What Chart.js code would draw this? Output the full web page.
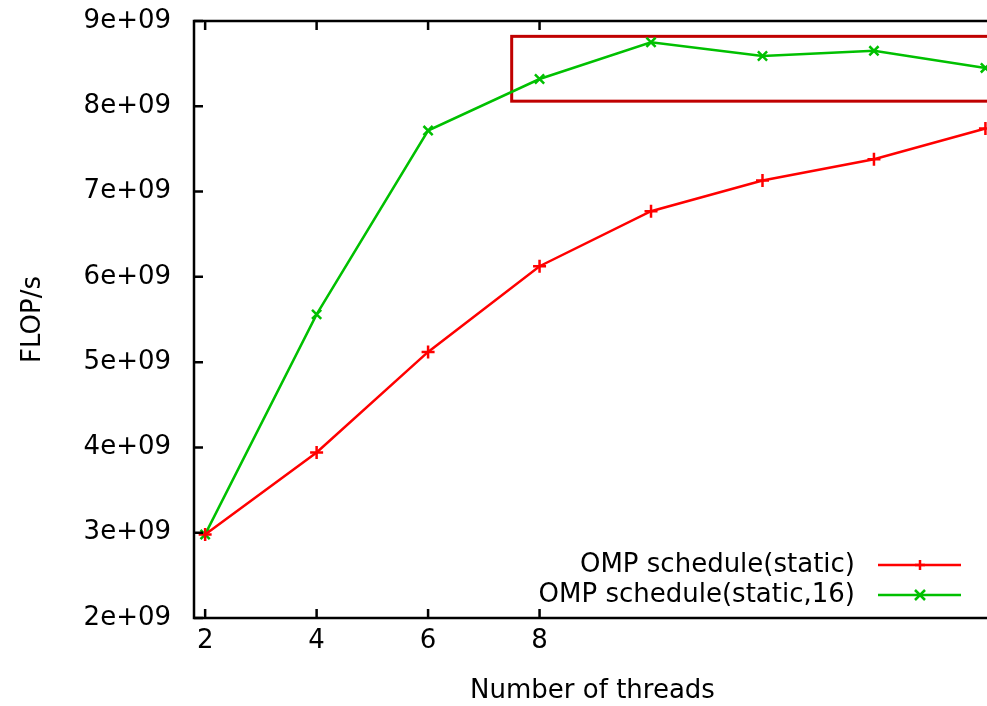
<!DOCTYPE html>
<html>
<head>
<meta charset="utf-8">
<script src="https://cdn.jsdelivr.net/npm/chart.js@4.4.1/dist/chart.umd.min.js"></script>
<style>
  html, body { margin: 0; padding: 0; background: #fff; overflow: hidden; }
  #wrap { width: 1000px; height: 706px; }
</style>
</head>
<body>
<div id="wrap"><canvas id="flops" width="1000" height="706"></canvas></div>
<script>
const threads = [2, 4, 6, 8, 10, 12, 14, 16];
const staticFlops = [2.98e9, 3.94e9, 5.12e9, 6.125e9, 6.77e9, 7.13e9, 7.38e9, 7.74e9];
const chunk16Flops = [2.98e9, 5.56e9, 7.715e9, 8.32e9, 8.75e9, 8.59e9, 8.65e9, 8.45e9];
const seriesLabels = ['OMP schedule(static)', 'OMP schedule(static,16)'];
const xTickValues = [2, 4, 6, 8];
const yTickValues = [2e9, 3e9, 4e9, 5e9, 6e9, 7e9, 8e9, 9e9];
// highlight rectangle, in data units
const boxX = [7.5, 16.5];
const boxY = [8.06e9, 8.82e9];

Chart.defaults.font.family = '"DejaVu Sans", sans-serif';
Chart.defaults.font.size = 26;
Chart.defaults.color = '#000';

function toPoints(xs, ys) {
    return xs.map((x, i) => ({ x: x, y: ys[i] }));
}

function drawMarker(ctx, style, x, y, r) {
    ctx.beginPath();
    if (style === 'cross') {
        ctx.moveTo(x - r, y); ctx.lineTo(x + r, y);
        ctx.moveTo(x, y - r); ctx.lineTo(x, y + r);
    } else {
        ctx.moveTo(x - r, y - r); ctx.lineTo(x + r, y + r);
        ctx.moveTo(x - r, y + r); ctx.lineTo(x + r, y - r);
    }
    ctx.stroke();
}

const gnuplotLook = {
    id: 'gnuplotLook',
    beforeDatasetsDraw(chart) {
        const { ctx, scales: { x, y } } = chart;
        ctx.save();
        ctx.strokeStyle = '#c00000';
        ctx.lineWidth = 3;
        const x0 = x.getPixelForValue(boxX[0]);
        const x1 = x.getPixelForValue(boxX[1]);
        const y0 = y.getPixelForValue(boxY[1]);
        const y1 = y.getPixelForValue(boxY[0]);
        ctx.strokeRect(x0, y0, x1 - x0, y1 - y0);
        ctx.restore();
    },
    afterDraw(chart) {
        const { ctx, chartArea: a, scales: { x, y } } = chart;
        ctx.save();
        ctx.strokeStyle = '#000';
        ctx.lineWidth = 2.5;
        ctx.strokeRect(a.left, a.top, a.right - a.left, a.bottom - a.top);

        // inward tick marks (bottom mirrored on top, left only)
        const tl = 9;
        ctx.beginPath();
        x.ticks.forEach(t => {
            const px = x.getPixelForValue(t.value);
            ctx.moveTo(px, a.bottom); ctx.lineTo(px, a.bottom - tl);
            ctx.moveTo(px, a.top); ctx.lineTo(px, a.top + tl);
        });
        y.ticks.forEach(t => {
            const py = y.getPixelForValue(t.value);
            ctx.moveTo(a.left, py); ctx.lineTo(a.left + tl, py);
        });
        ctx.stroke();

        // key in the lower right corner: text, then line sample
        ctx.font = '26px "DejaVu Sans", sans-serif';
        ctx.textAlign = 'right';
        ctx.textBaseline = 'middle';
        chart.data.datasets.forEach((ds, i) => {
            const rowY = a.bottom - 53 + i * 30;
            ctx.fillStyle = '#000';
            ctx.fillText(ds.label, a.right - 136, rowY);
            ctx.strokeStyle = ds.borderColor;
            ctx.lineWidth = 2.5;
            ctx.beginPath();
            ctx.moveTo(a.right - 113, rowY);
            ctx.lineTo(a.right - 30, rowY);
            ctx.stroke();
            drawMarker(ctx, ds.pointStyle, a.right - 71, rowY, 5);
        });
        ctx.restore();
    }
};

new Chart(document.getElementById('flops'), {
    type: 'line',
    data: {
        datasets: [{
            label: seriesLabels[0],
            data: toPoints(threads, staticFlops),
            borderColor: '#ff0000',
            backgroundColor: '#ff0000',
            borderWidth: 2.5,
            pointStyle: 'cross',
            pointRadius: 6.5,
            pointBorderWidth: 2.5,
            tension: 0
        }, {
            label: seriesLabels[1],
            data: toPoints(threads, chunk16Flops),
            borderColor: '#00c000',
            backgroundColor: '#00c000',
            borderWidth: 2.5,
            pointStyle: 'crossRot',
            pointRadius: 6.5,
            pointBorderWidth: 2.5,
            tension: 0
        }]
    },
    options: {
        responsive: false,
        animation: false,
        layout: { padding: { top: 21, right: 7.5, bottom: 0, left: 0 } },
        plugins: {
            legend: { display: false },
            tooltip: { enabled: false }
        },
        scales: {
            x: {
                type: 'linear',
                min: 1.8,
                max: 16.1,
                grid: { display: false, drawTicks: false },
                border: { display: false },
                afterBuildTicks: s => { s.ticks = xTickValues.map(v => ({ value: v })); },
                afterFit: s => { s.height = 88; s.paddingLeft = 0; s.paddingRight = 0; },
                ticks: { padding: 8 },
                title: {
                    display: true,
                    text: 'Number of threads',
                    font: { size: 26, lineHeight: 1 },
                    padding: { top: 0, bottom: 2 }
                }
            },
            y: {
                min: 2e9,
                max: 9e9,
                grid: { display: false, drawTicks: false },
                border: { display: false },
                afterBuildTicks: s => { s.ticks = yTickValues.map(v => ({ value: v })); },
                afterFit: s => { s.width = 194; s.paddingTop = 0; s.paddingBottom = 0; },
                ticks: {
                    padding: 23,
                    callback: v => (v / 1e9) + 'e+09'
                },
                title: {
                    display: true,
                    text: 'FLOP/s',
                    padding: { top: 18, bottom: 0 }
                }
            }
        }
    },
    plugins: [gnuplotLook]
});
</script>
</body>
</html>
